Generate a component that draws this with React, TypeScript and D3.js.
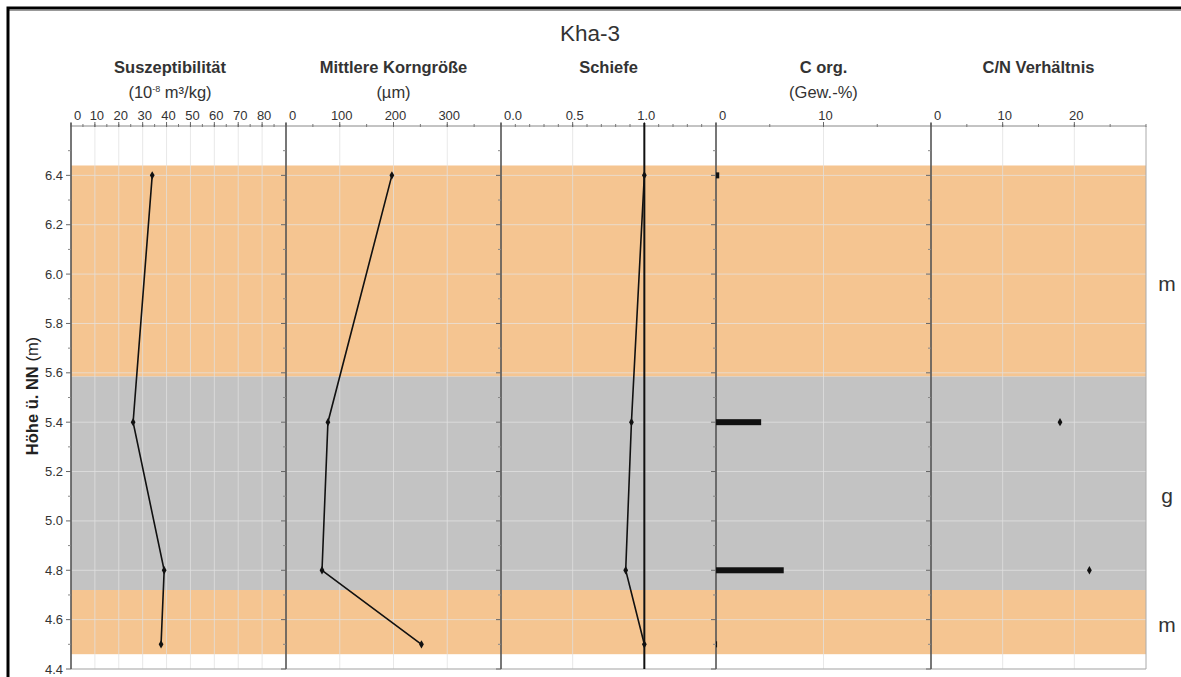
import React from "react";
import * as d3 from "d3";

// ---- data ----
const depths = [6.4, 5.4, 4.8, 4.5];
const suszept = [34, 26, 39, 37.7];
const korngroesse = [197, 78, 67, 252];
const schiefe = [1.0, 0.91, 0.87, 1.0];
const corg = [0.3, 4.2, 6.3, 0.1];
const cnDepths = [5.4, 4.8];
const cnValues = [18, 22.1];

const bandTops = [6.44, 5.585, 4.72];
const bandBottoms = [5.585, 4.72, 4.46];
const bandKinds = ["m", "g", "m"];
const bandLabelHeights = [5.96, 5.1, 4.58];

const yMajorTicks = [4.4, 4.6, 4.8, 5.0, 5.2, 5.4, 5.6, 5.8, 6.0, 6.2, 6.4];
const yMinorTicks = [4.5, 4.7, 4.9, 5.1, 5.3, 5.5, 5.7, 5.9, 6.1, 6.3, 6.5];

const panelTitles = ["Suszeptibilität", "Mittlere Korngröße", "Schiefe", "C org.", "C/N Verhältnis"];
const panelUnits = ["SUSZ", "(µm)", "", "(Gew.-%)", ""];
const panelDomains: [number, number][] = [[0, 90], [0, 400], [0, 1.5], [0, 20], [0, 30]];
const panelMajor = [
  [0, 10, 20, 30, 40, 50, 60, 70, 80],
  [0, 100, 200, 300],
  [0, 0.5, 1.0],
  [0, 10],
  [0, 10, 20],
];
const panelMinorStep = [5, 50, 0.1, 5, 5];
const panelFormat = [d3.format("d"), d3.format("d"), d3.format(".1f"), d3.format("d"), d3.format("d")];

const W = 1181;
const H = 677;
const left0 = 71;
const panelW = 215;
const top = 126;
const bottom = 669;
const textColor = "#333";
const font = "Liberation Sans, Arial, sans-serif";
const orange = "#F5C591";
const gray = "#C3C3C3";
const titleSize = 16.5;

export default function App() {
  const y = d3.scaleLinear().domain([4.4, 6.6]).range([bottom, top]);
  const xs = panelDomains.map((dom, i) =>
    d3.scaleLinear().domain(dom).range([left0 + i * panelW, left0 + (i + 1) * panelW])
  );
  const plotRight = left0 + 5 * panelW;
  const diamond = d3.symbol().type(d3.symbolDiamond).size(20)() as string;

  const lineFor = (vals: number[], x: d3.ScaleLinear<number, number>) =>
    d3
      .line<number>()
      .x((v) => x(v))
      .y((_, i) => y(depths[i]))(vals) as string;

  const lineSeries = [
    { vals: suszept, x: xs[0] },
    { vals: korngroesse, x: xs[1] },
    { vals: schiefe, x: xs[2] },
  ];

  return (
    <svg
      width={W}
      height={H}
      style={{ position: "absolute", left: 0, top: 0, background: "#fff" }}
      fontFamily={font}
    >
      {/* bands */}
      {bandTops.map((t, i) => (
        <rect
          key={"b" + i}
          x={left0}
          width={plotRight - left0}
          y={y(t)}
          height={y(bandBottoms[i]) - y(t)}
          fill={bandKinds[i] === "m" ? orange : gray}
        />
      ))}

      {/* grid */}
      {yMajorTicks.map((t) => (
        <line key={"gy" + t} x1={left0} x2={plotRight} y1={y(t)} y2={y(t)} stroke="#e6e6e6" strokeOpacity={0.7} strokeWidth={1} />
      ))}
      {xs.map((x, p) =>
        panelMajor[p]
          .filter((t) => t !== 0)
          .map((t) => (
            <line key={"gx" + p + "-" + t} x1={x(t)} x2={x(t)} y1={top} y2={bottom} stroke="#e0e0e0" strokeOpacity={0.75} strokeWidth={1} />
          ))
      )}

      {/* plot frame: top axis, right and bottom */}
      <line x1={left0} x2={plotRight} y1={top} y2={top} stroke="#888" strokeWidth={1} />
      <line x1={left0} x2={plotRight} y1={bottom} y2={bottom} stroke="#aaa" strokeWidth={1} />
      <line x1={plotRight} x2={plotRight} y1={top} y2={bottom} stroke="#aaa" strokeWidth={1} />

      {/* panels */}
      {xs.map((x, p) => {
        const [d0, d1] = panelDomains[p];
        const minor = d3.range(d0, d1 + 1e-9, panelMinorStep[p]);
        const x0 = x(d0);
        const cx = p === 0 ? 170 : (x(d0) + x(d1)) / 2;
        return (
          <g key={"p" + p}>
            {/* left axis */}
            <line x1={x0} x2={x0} y1={top - 3} y2={bottom} stroke="#555" strokeWidth={1.6} />
            {yMajorTicks.map((t) => (
              <line key={"ytM" + t} x1={x0 - 5} x2={x0} y1={y(t)} y2={y(t)} stroke="#666" strokeWidth={1} />
            ))}
            {yMinorTicks.map((t) => (
              <line key={"ytm" + t} x1={x0 - 3} x2={x0} y1={y(t)} y2={y(t)} stroke="#888" strokeWidth={1} />
            ))}
            {/* top ticks */}
            {minor.map((t) => (
              <line key={"xm" + t} x1={x(t)} x2={x(t)} y1={top - 2} y2={top + 1} stroke="#777" strokeWidth={1} />
            ))}
            {panelMajor[p].map((t) => (
              <line key={"xM" + t} x1={x(t)} x2={x(t)} y1={top - 4} y2={top + 1} stroke="#666" strokeWidth={1} />
            ))}
            {panelMajor[p].map((t, i) => (
              <text
                key={"xl" + t}
                x={i === 0 ? x(t) + 3 : x(t) + 2}
                y={119.5}
                textAnchor={i === 0 ? "start" : "middle"}
                fontSize={13}
                fill={textColor}
              >
                {panelFormat[p](t)}
              </text>
            ))}
            {/* titles */}
            <text x={cx} y={72.5} textAnchor="middle" fontSize={titleSize} fontWeight="bold" fill={textColor}>
              {panelTitles[p]}
            </text>
            {panelUnits[p] === "SUSZ" ? (
              <text x={cx} y={97.5} textAnchor="middle" fontSize={titleSize} fill={textColor}>
                (10
                <tspan dy={-6} fontSize={9}>
                  -8
                </tspan>
                <tspan dy={6}> m³/kg)</tspan>
              </text>
            ) : panelUnits[p] ? (
              <text x={cx} y={97.5} textAnchor="middle" fontSize={titleSize} fill={textColor}>
                {panelUnits[p]}
              </text>
            ) : null}
          </g>
        );
      })}

      {/* y tick labels */}
      {yMajorTicks.map((t) => (
        <text key={"yl" + t} x={63} y={y(t) + 4.5} textAnchor="end" fontSize={13} fill={textColor}>
          {t.toFixed(1)}
        </text>
      ))}

      {/* Schiefe reference line at 1.0 */}
      <line x1={xs[2](1)} x2={xs[2](1)} y1={top - 3} y2={bottom} stroke="#111" strokeWidth={2} />

      {/* line series */}
      {lineSeries.map((s, k) => (
        <g key={"ls" + k}>
          <path d={lineFor(s.vals, s.x)} fill="none" stroke="#111" strokeWidth={1.6} />
          {s.vals.map((v, i) => (
            <path key={i} d={diamond} transform={`translate(${s.x(v)},${y(depths[i])})`} fill="#111" />
          ))}
        </g>
      ))}

      {/* C org bars */}
      {corg.map((v, i) => (
        <rect
          key={"c" + i}
          x={xs[3](0)}
          y={y(depths[i]) - 3}
          width={Math.max(xs[3](v) - xs[3](0), 1)}
          height={6}
          fill="#111"
        />
      ))}

      {/* C/N points */}
      {cnValues.map((v, i) => (
        <path key={"cn" + i} d={diamond} transform={`translate(${xs[4](v)},${y(cnDepths[i])})`} fill="#111" />
      ))}

      {/* band labels */}
      {bandKinds.map((k, i) => (
        <text key={"bl" + i} x={1167} y={y(bandLabelHeights[i]) + 7} textAnchor="middle" fontSize={21} fill={textColor}>
          {k}
        </text>
      ))}

      {/* y axis title */}
      <text transform={`translate(38,${396}) rotate(-90)`} textAnchor="middle" fontSize={titleSize} fill="#222">
        <tspan fontWeight="bold">Höhe ü. NN</tspan>
        <tspan> (m)</tspan>
      </text>

      {/* main title */}
      <text x={590} y={41} textAnchor="middle" fontSize={22.5} fill={textColor}>
        Kha-3
      </text>

      {/* outer frame */}
      <line x1={8} x2={W} y1={10.5} y2={10.5} stroke="#999" strokeWidth={1} />
      <path d={`M8,${H + 5} L8,8 L${W + 5},8`} fill="none" stroke="#000" strokeWidth={3} />
    </svg>
  );
}
